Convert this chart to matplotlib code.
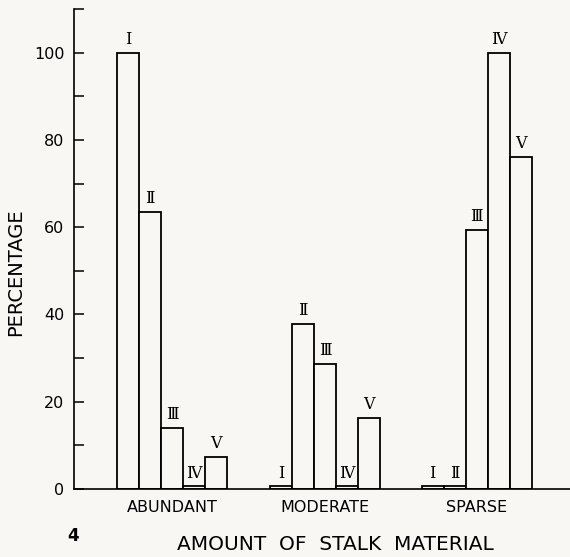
import matplotlib
matplotlib.use("Agg")
import matplotlib.pyplot as plt
import numpy as np
from matplotlib.ticker import MultipleLocator

categories = ["ABUNDANT", "MODERATE", "SPARSE"]
classes = ["Ⅰ", "Ⅱ", "Ⅲ", "Ⅳ", "Ⅴ"]
abundant = [100, 63.5, 14.0, 0.6, 7.3]
moderate = [0.6, 37.8, 28.7, 0.6, 16.3]
sparse = [0.6, 0.6, 59.4, 100, 76.1]
series = [abundant, moderate, sparse]

bg = "#f8f7f4"
fig = plt.figure(figsize=(5.70, 5.57), dpi=100, facecolor=bg)
ax = fig.add_axes([0.1298, 0.1221, 0.8702, 0.8617])
ax.set_facecolor(bg)

w = 0.1438
group_pos = np.array([0.0, 1.0, 1.99])
for gi, vals in enumerate(series):
    xs = group_pos[gi] + (np.arange(5) - 2) * w
    ax.bar(xs, vals, width=w, facecolor=bg, edgecolor="black", linewidth=1.3)
    for x, v, lab in zip(xs, vals, classes):
        ax.annotate(lab, (x, v), xytext=(0, 3.5), textcoords="offset points",
                    ha="center", va="bottom", fontsize=11.5,
                    family=["DejaVu Serif", "DejaVu Sans"])

ax.set_xlim(-0.64, 2.60)
ax.set_ylim(0, 110)
ax.spines["top"].set_visible(False)
ax.spines["right"].set_visible(False)
ax.spines["left"].set_linewidth(1.2)
ax.spines["bottom"].set_linewidth(1.2)
ax.yaxis.set_major_locator(MultipleLocator(20))
ax.yaxis.set_minor_locator(MultipleLocator(10))
ax.tick_params(axis="y", which="both", direction="in", length=7.5, width=1.1, pad=7)
ax.tick_params(axis="y", labelsize=11.5)
ax.set_xticks(group_pos)
ax.set_xticklabels(categories, fontsize=11.5)
ax.tick_params(axis="x", length=0, pad=8)

ax.set_ylabel("PERCENTAGE", fontsize=14)
ax.yaxis.set_label_coords(-0.099, 0.452)
fig.text(0.588, 0.0233, "AMOUNT  OF  STALK  MATERIAL", ha="center", va="center", fontsize=14.5)
fig.text(0.118, 0.0377, "4", ha="left", va="center", fontsize=12, fontweight="bold")

fig.savefig("out.png", dpi=100, facecolor=bg)
